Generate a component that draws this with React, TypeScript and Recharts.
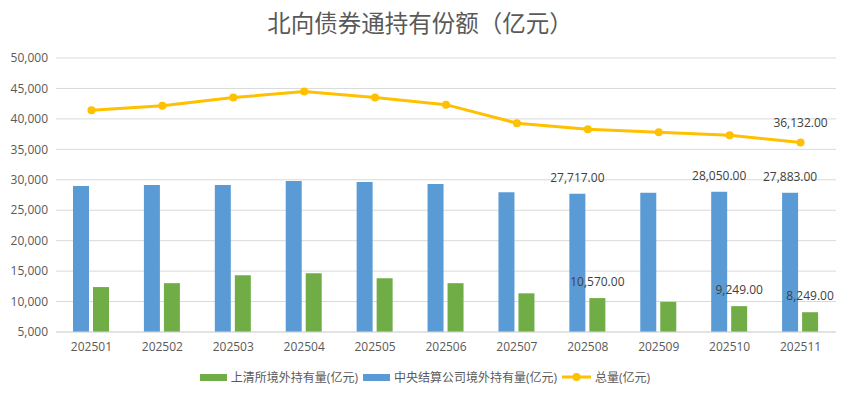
import {
  Bar,
  CartesianGrid,
  ComposedChart,
  LabelList,
  Legend,
  Line,
  XAxis,
  YAxis,
} from "recharts";

const categories = [
  "202501", "202502", "202503", "202504", "202505", "202506",
  "202507", "202508", "202509", "202510", "202511",
];
// 中央结算公司境外持有量
const ccdcHoldings = [28980, 29130, 29130, 29800, 29640, 29310, 27950, 27717, 27860, 28050, 27883];
// 上清所境外持有量
const shchHoldings = [12380, 13020, 14330, 14660, 13840, 13020, 11350, 10570, 9950, 9249, 8249];
// 总量
const totalHoldings = [41400, 42150, 43500, 44480, 43500, 42340, 39300, 38287, 37810, 37299, 36132];
const yTicks = [5000, 10000, 15000, 20000, 25000, 30000, 35000, 40000, 45000, 50000];

// which points carry a data label
const ccdcLabelled = [7, 9, 10];
const shchLabelled = [7, 9, 10];
const totalLabelled = [10];

const BLUE = "#5B9BD5";
const GREEN = "#70AD47";
const GOLD = "#FFC000";
const FONT = "'Open Sans', 'Noto Sans CJK SC', sans-serif";

const data = categories.map((month, i) => ({
  month,
  ccdc: ccdcHoldings[i],
  shch: shchHoldings[i],
  total: totalHoldings[i],
}));

const fmt = (v: number) =>
  v.toLocaleString("en-US", { minimumFractionDigits: 2, maximumFractionDigits: 2 });

const barLabel = (shown: number[]) => (props: any) => {
  const { x, y, width, value, index } = props;
  if (!shown.includes(index)) return null;
  return (
    <text
      x={Number(x) + Number(width) / 2}
      y={Number(y) - 12}
      textAnchor="middle"
      fill="#404040"
      fontSize={12}
      fontFamily={FONT}
    >
      {fmt(value)}
    </text>
  );
};

const lineLabel = (props: any) => {
  const { x, y, value, index } = props;
  if (!totalLabelled.includes(index)) return null;
  return (
    <text x={x} y={Number(y) - 15} textAnchor="middle" fill="#404040" fontSize={12} fontFamily={FONT}>
      {fmt(value)}
    </text>
  );
};

const legendOrder = ["shch", "ccdc", "total"];

function LegendContent({ payload }: any) {
  const items = [...(payload ?? [])].sort(
    (a: any, b: any) => legendOrder.indexOf(a.dataKey) - legendOrder.indexOf(b.dataKey)
  );
  return (
    <div
      style={{
        display: "flex",
        justifyContent: "center",
        alignItems: "center",
        gap: 5,
        fontSize: 12,
        color: "#595959",
        fontFamily: FONT,
        paddingLeft: 14,
      }}
    >
      {items.map((it: any) => (
        <span key={it.dataKey} style={{ display: "flex", alignItems: "center", gap: 4 }}>
          {it.dataKey === "total" ? (
            <svg width={29} height={10}>
              <line x1={0} y1={5} x2={29} y2={5} stroke={GOLD} strokeWidth={3} />
              <circle cx={14.5} cy={5} r={4} fill={GOLD} />
            </svg>
          ) : (
            <span style={{ display: "inline-block", width: 27, height: 7, background: it.color }} />
          )}
          {it.value}
        </span>
      ))}
    </div>
  );
}

export default function App() {
  return (
    <div
      style={{
        position: "absolute",
        left: 0,
        top: 0,
        width: 851,
        height: 397,
        background: "#fff",
        fontFamily: FONT,
      }}
    >
      <div
        style={{
          position: "absolute",
          top: 5,
          left: 0,
          width: 840,
          textAlign: "center",
          fontSize: 23.5,
          color: "#595959",
          fontFamily: "'Noto Sans CJK SC', sans-serif",
        }}
      >
        北向债券通持有份额（亿元）
      </div>
      <ComposedChart
        width={851}
        height={397}
        data={data}
        margin={{ top: 58, right: 15, left: 0, bottom: 3 }}
        barSize={16}
        barGap={4}
      >
        <CartesianGrid vertical={false} stroke="#d9d9d9" />
        <XAxis
          dataKey="month"
          axisLine={{ stroke: "#d9d9d9" }}
          tickLine={false}
          tickMargin={4}
          height={36}
          tick={{ fill: "#595959", fontSize: 12, fontFamily: FONT }}
        />
        <YAxis
          domain={[5000, 50000]}
          ticks={yTicks}
          width={56}
          axisLine={false}
          tickLine={false}
          tickFormatter={(v: number) => v.toLocaleString("en-US")}
          tick={{ fill: "#595959", fontSize: 12, fontFamily: FONT }}
        />
        <Legend verticalAlign="bottom" height={26} content={<LegendContent />} />
        <Bar dataKey="ccdc" name="中央结算公司境外持有量(亿元)" fill={BLUE} isAnimationActive={false}>
          <LabelList dataKey="ccdc" content={barLabel(ccdcLabelled)} />
        </Bar>
        <Bar dataKey="shch" name="上清所境外持有量(亿元)" fill={GREEN} isAnimationActive={false}>
          <LabelList dataKey="shch" content={barLabel(shchLabelled)} />
        </Bar>
        <Line
          type="linear"
          dataKey="total"
          name="总量(亿元)"
          stroke={GOLD}
          strokeWidth={3}
          dot={{ r: 4, fill: GOLD, stroke: GOLD, strokeWidth: 0 }}
          isAnimationActive={false}
        >
          <LabelList dataKey="total" content={lineLabel} />
        </Line>
      </ComposedChart>
    </div>
  );
}
